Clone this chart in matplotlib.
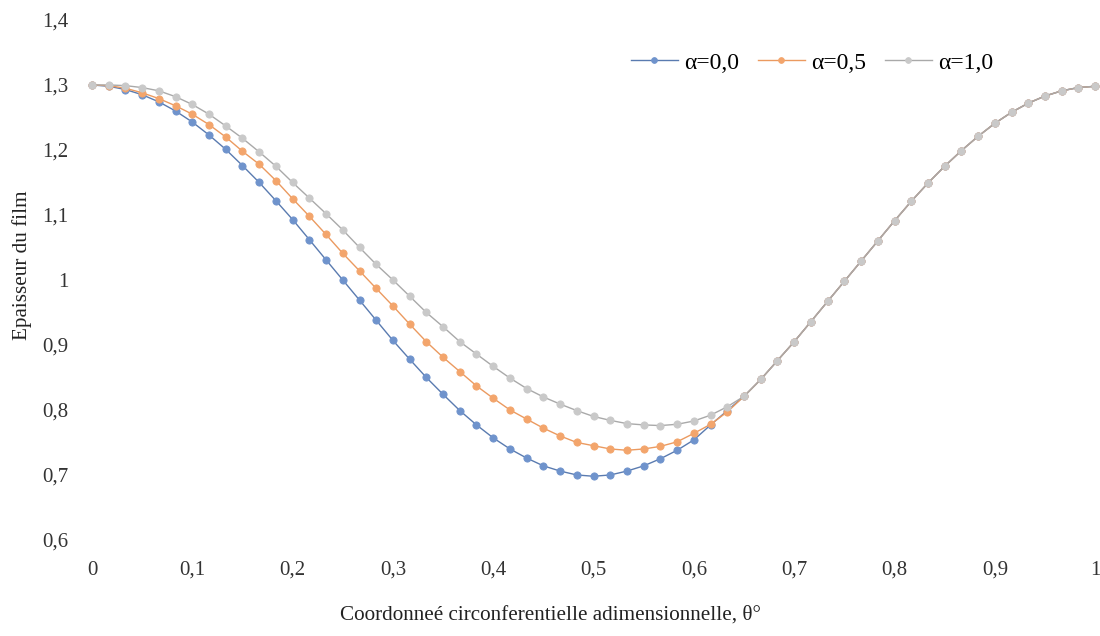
import matplotlib
matplotlib.use('Agg')
import matplotlib.pyplot as plt

# circumferential coordinate, 61 nodes
theta = [0.0, 0.0167, 0.0333, 0.05, 0.0667, 0.0833, 0.1, 0.1167, 0.1333, 0.15,
         0.1667, 0.1833, 0.2, 0.2167, 0.2333, 0.25, 0.2667, 0.2833, 0.3, 0.3167,
         0.3333, 0.35, 0.3667, 0.3833, 0.4, 0.4167, 0.4333, 0.45, 0.4667, 0.4833,
         0.5, 0.5167, 0.5333, 0.55, 0.5667, 0.5833, 0.6, 0.6167, 0.6333, 0.65,
         0.6667, 0.6833, 0.7, 0.7167, 0.7333, 0.75, 0.7667, 0.7833, 0.8, 0.8167,
         0.8333, 0.85, 0.8667, 0.8833, 0.9, 0.9167, 0.9333, 0.95, 0.9667, 0.9833,
         1.0]

# common part of the three curves (theta >= 0.65)
h_tail = [0.821, 0.847, 0.876, 0.905, 0.936, 0.967, 0.998, 1.029, 1.060, 1.091,
          1.121, 1.149, 1.175, 1.199, 1.221, 1.241, 1.258, 1.272, 1.283, 1.291,
          1.296, 1.298]

h_a00 = [1.300, 1.298, 1.293, 1.285, 1.274, 1.260, 1.243, 1.223, 1.201, 1.176,
         1.150, 1.122, 1.093, 1.062, 1.031, 1.000, 0.969, 0.938, 0.907, 0.878,
         0.850, 0.824, 0.799, 0.777, 0.757, 0.740, 0.726, 0.714, 0.706, 0.700,
         0.698, 0.700, 0.706, 0.714, 0.725, 0.738, 0.754, 0.777, 0.799] + h_tail

h_a05 = [1.300, 1.299, 1.295, 1.288, 1.279, 1.268, 1.255, 1.239, 1.220, 1.198,
         1.178, 1.153, 1.125, 1.098, 1.070, 1.041, 1.014, 0.987, 0.960, 0.932,
         0.905, 0.881, 0.859, 0.837, 0.818, 0.800, 0.786, 0.772, 0.760, 0.750,
         0.745, 0.740, 0.738, 0.740, 0.744, 0.751, 0.764, 0.778, 0.797] + h_tail

h_a10 = [1.300, 1.300, 1.299, 1.296, 1.291, 1.282, 1.270, 1.255, 1.237, 1.218,
         1.197, 1.175, 1.150, 1.126, 1.102, 1.077, 1.050, 1.024, 1.000, 0.975,
         0.950, 0.928, 0.905, 0.886, 0.867, 0.849, 0.833, 0.820, 0.809, 0.799,
         0.790, 0.784, 0.779, 0.777, 0.776, 0.778, 0.783, 0.792, 0.805] + h_tail

labels = ['α=0,0', 'α=0,5', 'α=1,0']
line_colors = ['#5a7bb0', '#eb9a60', '#a9a9a9']
marker_colors = ['#6f93cc', '#f3a56c', '#c9c9c9']

x_ticks = [0, 0.1, 0.2, 0.3, 0.4, 0.5, 0.6, 0.7, 0.8, 0.9, 1]
x_ticklabels = ['0', '0,1', '0,2', '0,3', '0,4', '0,5', '0,6', '0,7', '0,8', '0,9', '1']
y_ticks = [0.6, 0.7, 0.8, 0.9, 1.0, 1.1, 1.2, 1.3, 1.4]
y_ticklabels = ['0,6', '0,7', '0,8', '0,9', '1', '1,1', '1,2', '1,3', '1,4']

plt.rcParams['font.family'] = ['Liberation Serif', 'DejaVu Serif']

fig = plt.figure(figsize=(11, 6.36), dpi=100)
ax = fig.add_axes([0.0836, 0.151, 0.912, 0.8176])

for h, lab, lc, mc in zip([h_a00, h_a05, h_a10], labels, line_colors, marker_colors):
    ax.plot(theta, h, color=lc, lw=1.0, marker='o', markersize=5.2,
            markerfacecolor=mc, markeredgecolor=mc, markeredgewidth=0.6,
            label=lab, clip_on=False)

ax.set_xlim(0, 1)
ax.set_ylim(0.6, 1.4)
ax.set_xticks(x_ticks)
ax.set_xticklabels(x_ticklabels)
ax.set_yticks(y_ticks)
ax.set_yticklabels(y_ticklabels)
ax.tick_params(axis='both', length=0, labelsize=15, colors='#333333')
ax.tick_params(axis='x', pad=15)
ax.tick_params(axis='y', pad=17)
for s in ax.spines.values():
    s.set_visible(False)

fig.text(0.5, 0.033, 'Coordonneé circonferentielle adimensionnelle, θ°',
         ha='center', va='center', fontsize=15.2, color='#222222')
fig.text(0.02, 0.583, 'Epaisseur du film', rotation=90,
         ha='center', va='center', fontsize=15.2, color='#222222')

fig.legend(loc='center', bbox_to_anchor=(0.738, 0.901), ncol=3, frameon=False,
           fontsize=17, handlelength=2.0, columnspacing=0.8, handletextpad=0.25,
           markerscale=0.8)

fig.savefig('out.png', dpi=100)
